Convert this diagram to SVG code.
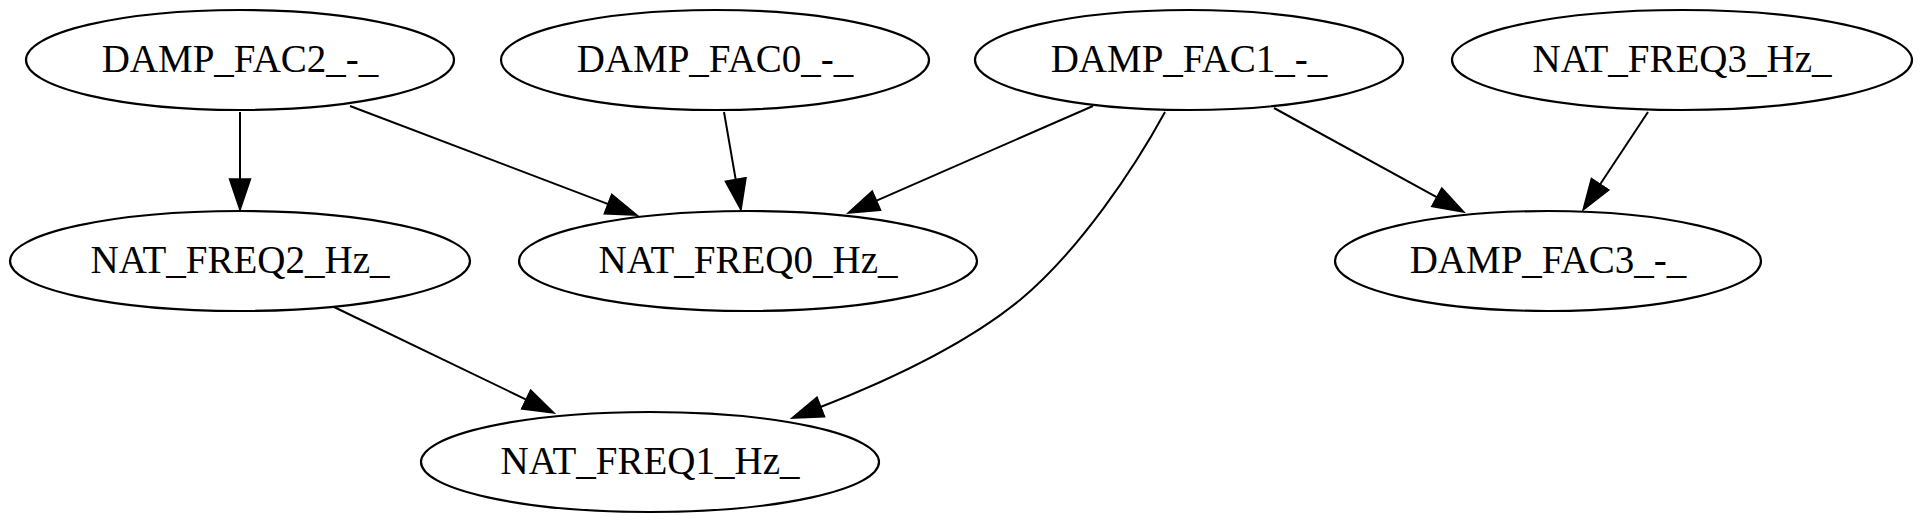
<svg xmlns="http://www.w3.org/2000/svg" width="1922" height="522" viewBox="0 0 1922 522">
<style>
.node ellipse{fill:none;stroke:#000;stroke-width:2.2}
.node text{font-family:"Liberation Serif","Times New Roman",serif;font-size:39px;text-anchor:middle;fill:#000}
.edge path{fill:none;stroke:#000;stroke-width:2}
</style>
<defs>
<marker id="arr" markerUnits="userSpaceOnUse" markerWidth="34" markerHeight="24" viewBox="-4 -12 34 24" refX="0" refY="0" orient="auto">
<path d="M-3,-10.5 L28,0 L-3,10.5 Z" fill="#000" stroke="#000" stroke-width="1.5"/>
</marker>
</defs>
<rect width="1922" height="522" fill="#fff"/>
<g id="edges">
<g class="edge"><path d="M240,112 L240,182" marker-end="url(#arr)"/></g>
<g class="edge"><path d="M350,106 L610.8,205.1" marker-end="url(#arr)"/></g>
<g class="edge"><path d="M724,112 L736.2,182.4" marker-end="url(#arr)"/></g>
<g class="edge"><path d="M1093,106 L873.7,201.8" marker-end="url(#arr)"/></g>
<g class="edge"><path d="M1165,112 C1135,167 1080,250 1020,300 C960,349 880,384 818,408" marker-end="url(#arr)"/></g>
<g class="edge"><path d="M1274,108 L1439.4,198.6" marker-end="url(#arr)"/></g>
<g class="edge"><path d="M1648,112 L1598.5,186.7" marker-end="url(#arr)"/></g>
<g class="edge"><path d="M334,307 L528.8,400.8" marker-end="url(#arr)"/></g>
</g>
<g id="DAMP_FAC2" class="node"><ellipse cx="240" cy="60" rx="214" ry="50"/><text x="240" y="72">DAMP_FAC2_-_</text></g>
<g id="DAMP_FAC0" class="node"><ellipse cx="715" cy="60" rx="214" ry="50"/><text x="715" y="72">DAMP_FAC0_-_</text></g>
<g id="DAMP_FAC1" class="node"><ellipse cx="1189" cy="60" rx="214" ry="50"/><text x="1189" y="72">DAMP_FAC1_-_</text></g>
<g id="NAT_FREQ3" class="node"><ellipse cx="1682" cy="60" rx="230" ry="50"/><text x="1682" y="72">NAT_FREQ3_Hz_</text></g>
<g id="NAT_FREQ2" class="node"><ellipse cx="240" cy="261" rx="230" ry="50"/><text x="240" y="273">NAT_FREQ2_Hz_</text></g>
<g id="NAT_FREQ0" class="node"><ellipse cx="748" cy="261" rx="229" ry="50"/><text x="748" y="273">NAT_FREQ0_Hz_</text></g>
<g id="DAMP_FAC3" class="node"><ellipse cx="1548" cy="261" rx="213" ry="50"/><text x="1548" y="273">DAMP_FAC3_-_</text></g>
<g id="NAT_FREQ1" class="node"><ellipse cx="650" cy="462" rx="229" ry="50"/><text x="650" y="474">NAT_FREQ1_Hz_</text></g>
</svg>
